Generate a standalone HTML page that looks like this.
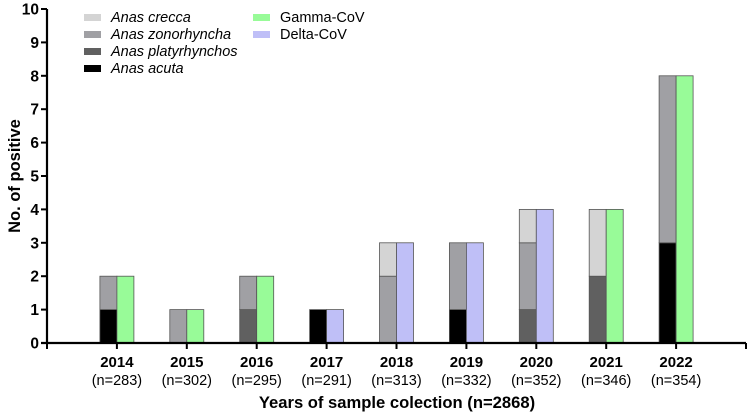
<!DOCTYPE html>
<html><head><meta charset="utf-8"><style>
body{margin:0;background:#fff;}
svg text{font-family:"Liberation Sans",Arial,sans-serif;}
</style></head><body>
<svg width="749" height="414" xmlns="http://www.w3.org/2000/svg" id="chart">
<g id="bars"></g>
<g id="axes"></g>
<g id="legend"></g>
<text transform="translate(20,176) rotate(-90)" text-anchor="middle" font-size="16.5" font-weight="bold">No. of positive</text>
<text x="397" y="408" text-anchor="middle" font-size="16.6" font-weight="bold">Years of sample colection (n=2868)</text>
</svg>
<script>
const years=["2014","2015","2016","2017","2018","2019","2020","2021","2022"];
const nLabels=["(n=283)","(n=302)","(n=295)","(n=291)","(n=313)","(n=332)","(n=352)","(n=346)","(n=354)"];
const acuta=[1,0,0,1,0,1,0,0,3];
const platyrhynchos=[0,0,1,0,0,0,1,2,0];
const zonorhyncha=[1,1,1,0,2,2,2,0,5];
const crecca=[0,0,0,0,1,0,1,2,0];
const gammaCoV=[2,1,2,0,0,0,0,4,8];
const deltaCoV=[0,0,0,1,3,3,4,0,0];
const yTicks=[0,1,2,3,4,5,6,7,8,9,10];
const NS="http://www.w3.org/2000/svg";
const x0=47,step=69.9,y0=343,yUnit=33.4,bw=17;
const X=i=>x0+step*(i+1);
const Y=v=>y0-v*yUnit;
function mk(t,a,p){const e=document.createElementNS(NS,t);for(const k in a)e.setAttribute(k,a[k]);(p||document.getElementById('chart')).appendChild(e);return e;}
const bars=document.getElementById('bars');
const species=[["acuta",acuta,"#000000"],["platyrhynchos",platyrhynchos,"#606060"],["zonorhyncha",zonorhyncha,"#a0a0a4"],["crecca",crecca,"#d4d4d4"]];
years.forEach((yr,i)=>{
  let cum=0;
  species.forEach(([nm,arr,col])=>{
    const v=arr[i]; if(!v)return;
    const r=mk('rect',{x:X(i)-bw,y:Y(cum+v),width:bw,height:v*yUnit,fill:col,stroke:"#555","stroke-width":0.8},bars);
    
    
    cum+=v;
  });
  const g=gammaCoV[i],d=deltaCoV[i];
  if(g){const r=mk('rect',{x:X(i),y:Y(g),width:bw,height:g*yUnit,fill:"#98fb98",stroke:"#555","stroke-width":0.8},bars);
    
    }
  if(d){const r=mk('rect',{x:X(i),y:Y(d),width:bw,height:d*yUnit,fill:"#bfbff7",stroke:"#555","stroke-width":0.8},bars);
    
    }
});
const ax=document.getElementById('axes');
mk('line',{x1:x0,y1:Y(10),x2:x0,y2:y0,stroke:"#000","stroke-width":2.2},ax);
mk('line',{x1:x0-6,y1:y0,x2:x0+step*10,y2:y0,stroke:"#000","stroke-width":2.2},ax);
yTicks.forEach(t=>{
  mk('line',{x1:x0-6,y1:Y(t),x2:x0,y2:Y(t),stroke:"#000","stroke-width":2},ax);
  const tx=mk('text',{x:x0-8,y:Y(t)+5.5,"text-anchor":"end","font-size":15.5,"font-weight":"bold"},ax);
  tx.textContent=t;
  
  
});
for(let k=0;k<=10;k++) mk('line',{x1:x0+step*k,y1:y0,x2:x0+step*k,y2:y0+6,stroke:"#000","stroke-width":2},ax);
years.forEach((yr,i)=>{
  const t=mk('text',{x:X(i),y:367,"text-anchor":"middle","font-size":15,"font-weight":"bold"},ax);
  t.textContent=yr;
  
  
  const n=mk('text',{x:X(i),y:385,"text-anchor":"middle","font-size":14.5},ax);
  n.textContent=nLabels[i];
  
  
});
const lg=document.getElementById('legend');
const entries=[["Anas crecca","#d4d4d4",84,17,true],["Anas zonorhyncha","#a0a0a4",84,34,true],["Anas platyrhynchos","#606060",84,51,true],["Anas acuta","#000000",84,68,true],["Gamma-CoV","#98fb98",253,17,false],["Delta-CoV","#bfbff7",253,34,false]];
entries.forEach(([lab,col,x,y,it])=>{
  const g=mk('g',{},lg);
  
  
  mk('rect',{x:x,y:y-3,width:17,height:7,fill:col},g);
  const t=mk('text',{x:x+27,y:y+5,"font-size":14.5,"font-style":it?"italic":"normal"},g);
  t.textContent=lab;
});
</script>
</body></html>
